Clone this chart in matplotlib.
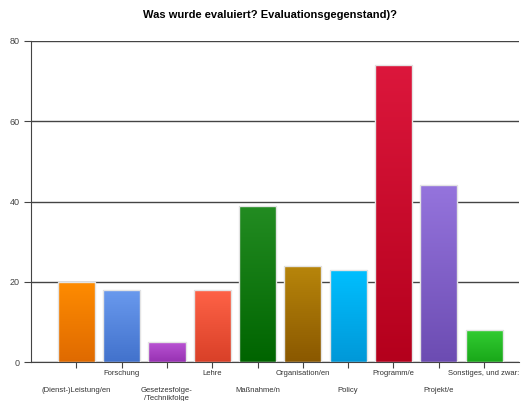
import matplotlib.pyplot as plt
import matplotlib
import numpy as np
from matplotlib.colors import LinearSegmentedColormap

matplotlib.rcParams['font.family'] = ['Liberation Sans', 'DejaVu Sans']

title = "Was wurde evaluiert? Evaluationsgegenstand)?"
categories = ["(Dienst-)Leistung/en", "Forschung", "Gesetzesfolge-\n/Technikfolge", "Lehre",
              "Maßnahme/n", "Organisation/en", "Policy", "Programm/e", "Projekt/e",
              "Sonstiges, und zwar:"]
values = [20, 18, 5, 18, 39, 24, 23, 74, 44, 8]
yticks = [0, 20, 40, 60, 80]
# top colour, bottom colour of each bar's gradient
top_colors = ["#ff8c00", "#6a9aee", "#bb55d5", "#ff6347", "#238c22", "#b8860b",
              "#00bfff", "#dc173c", "#9574dd", "#33cd33"]
bottom_colors = ["#df6a00", "#4272cc", "#9732b2", "#d94028", "#006400", "#8a5800",
                 "#0098d8", "#b4001c", "#6c4cb2", "#19a819"]

fig = plt.figure(figsize=(5.24, 4.01), dpi=100)
ax = fig.add_axes([31 / 524, 1 - 362 / 401, 488 / 524, 321 / 401])

x = np.arange(len(values))
ax.set_yticks(yticks)
ax.yaxis.grid(True, color="#444444", linewidth=1)
ax.set_axisbelow(True)

bars = ax.bar(x, values, width=0.82, color="none", edgecolor="#e4e4e4", linewidth=1, zorder=3)
grad = np.linspace(0, 1, 256).reshape(-1, 1)
for b, c1, c2 in zip(bars, top_colors, bottom_colors):
    cmap = LinearSegmentedColormap.from_list("g", [c1, c2])
    x0, y0 = b.get_x(), b.get_y()
    im = ax.imshow(grad, cmap=cmap, aspect="auto", zorder=2,
                   extent=(x0, x0 + b.get_width(), y0, y0 + b.get_height()), origin="upper")
    im.set_clip_path(b)
ax.set_xlim(-1, 9.77)
ax.set_ylim(0, 80)

ax.set_xticks(x)
ax.set_xticklabels(categories, fontsize=5.5, color="#333333")
for i, t in enumerate(ax.xaxis.get_major_ticks()):
    t.set_pad(14 if i % 2 == 0 else 2)
ax.tick_params(axis="x", length=4, color="#444444")
ax.tick_params(axis="y", length=5, color="#444444", labelsize=6.5, labelcolor="#444444", pad=3)

for s in ["top", "right"]:
    ax.spines[s].set_visible(False)
ax.spines["left"].set_color("#444444")
ax.spines["bottom"].set_color("#444444")

fig.text(0.515, 1 - 15 / 401, title, ha="center", va="center", fontsize=8, fontweight="bold")

plt.savefig("out.png", dpi=100)
